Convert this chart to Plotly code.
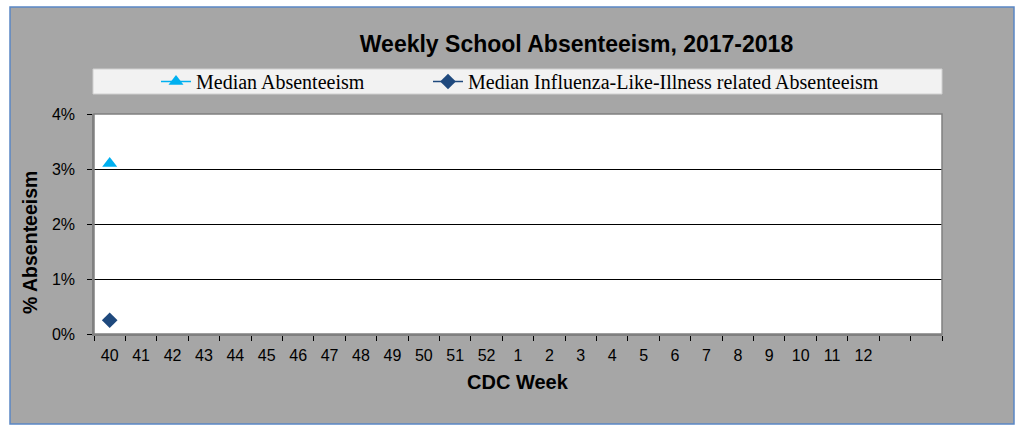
import plotly.graph_objects as go

weeks = ["40", "41", "42", "43", "44", "45", "46", "47", "48", "49", "50", "51", "52",
         "1", "2", "3", "4", "5", "6", "7", "8", "9", "10", "11", "12", "", ""]
median_abs = [0.031]
median_ili = [0.0025]
y_ticks = [0, 0.01, 0.02, 0.03, 0.04]

W, H = 1019, 425
ML, MR, MT, MB = 94, 77, 114, 91
PW, PH = W - ML - MR, H - MT - MB

def px_x(p):
    return (p - ML) / PW

def px_y(p):
    return (H - MB - p) / PH

pos = list(range(len(weeks)))

fig = go.Figure()
fig.add_trace(go.Scatter(
    x=pos[:len(median_abs)], y=median_abs, name="Median Absenteeism",
    mode="lines+markers", legend="legend",
    line=dict(color="#00b0f0", width=1.5),
    marker=dict(symbol="triangle-up", size=13, color="#00b0f0"),
))
fig.add_trace(go.Scatter(
    x=pos[:len(median_ili)], y=median_ili, name="Median Influenza-Like-Illness related Absenteeism",
    mode="lines+markers", legend="legend2",
    line=dict(color="#1f497d", width=1.5),
    marker=dict(symbol="diamond", size=12, color="#1f497d"),
))

# outer chart background and border
fig.add_shape(type="rect", xref="paper", yref="paper", layer="below",
              x0=px_x(10), x1=px_x(1014), y0=px_y(424), y1=px_y(7),
              fillcolor="#a6a6a6", line=dict(color="#5a87c5", width=1.5))
# plot area background
fig.add_shape(type="rect", xref="paper", yref="paper", layer="below",
              x0=0, x1=1, y0=0, y1=1,
              fillcolor="#ffffff", line=dict(width=0))
# legend background
fig.add_shape(type="rect", xref="paper", yref="paper", layer="below",
              x0=px_x(93), x1=px_x(942), y0=px_y(94), y1=px_y(69),
              fillcolor="#f2f2f2", line=dict(color="#d0d0d0", width=1))
# plot-area border (top/right)
fig.add_shape(type="rect", xref="paper", yref="paper", layer="above",
              x0=0, x1=1, y0=0, y1=1,
              fillcolor="rgba(0,0,0,0)", line=dict(color="#808080", width=1.5))

fig.add_annotation(text="<b>% Absenteeism</b>", xref="paper", yref="paper",
                   x=px_x(30), y=px_y(243), textangle=-90, showarrow=False,
                   font=dict(family="Liberation Sans, Arial", size=19.5, color="#000000"),
                   xanchor="center", yanchor="middle")
fig.add_annotation(text="<b>CDC Week</b>", xref="paper", yref="paper",
                   x=px_x(517.5), y=px_y(381.5), showarrow=False,
                   font=dict(family="Liberation Sans, Arial", size=20, color="#000000"),
                   xanchor="center", yanchor="middle")

legend_font = dict(family="Liberation Serif, Times New Roman", size=20, color="#000000")

fig.update_layout(
    width=W, height=H,
    margin=dict(l=ML, r=MR, t=MT, b=MB, pad=0),
    paper_bgcolor="white", plot_bgcolor="rgba(0,0,0,0)",
    title=dict(text="<b>Weekly School Absenteeism, 2017-2018</b>",
               x=576.5 / W, y=1 - 44 / H, xanchor="center", yanchor="middle",
               font=dict(family="Liberation Sans, Arial", size=23, color="#000000")),
    showlegend=True,
    legend=dict(orientation="h", x=px_x(156), y=px_y(81.5), xanchor="left", yanchor="middle",
                bgcolor="rgba(0,0,0,0)", font=legend_font, itemwidth=30),
    legend2=dict(orientation="h", x=px_x(428), y=px_y(81.5), xanchor="left", yanchor="middle",
                 bgcolor="rgba(0,0,0,0)", font=legend_font, itemwidth=30),
    xaxis=dict(range=[-0.5, len(weeks) - 0.5], tickmode="array",
               tickvals=pos, ticktext=weeks, ticks="", showgrid=False, zeroline=False,
               showline=True, linecolor="#808080", linewidth=1.5,
               ticklabelstandoff=6,
               tickfont=dict(family="Liberation Sans, Arial", size=16, color="#000000"),
               minor=dict(tick0=-0.5, dtick=1, ticks="outside", ticklen=5,
                          tickcolor="#000000", tickwidth=1, showgrid=False),
               fixedrange=True),
    yaxis=dict(range=[0, 0.04], tickmode="array", tickvals=y_ticks, tickformat=".0%",
               ticks="outside", ticklen=5, tickcolor="#000000",
               ticklabelstandoff=9,
               showgrid=True, gridcolor="#000000", gridwidth=1, zeroline=False,
               showline=True, linecolor="#808080", linewidth=1.5,
               tickfont=dict(family="Liberation Sans, Arial", size=16, color="#000000"),
               fixedrange=True),
)

fig.write_html("out.html", config={"displayModeBar": False},
               post_script="document.body.style.margin='0px';")
